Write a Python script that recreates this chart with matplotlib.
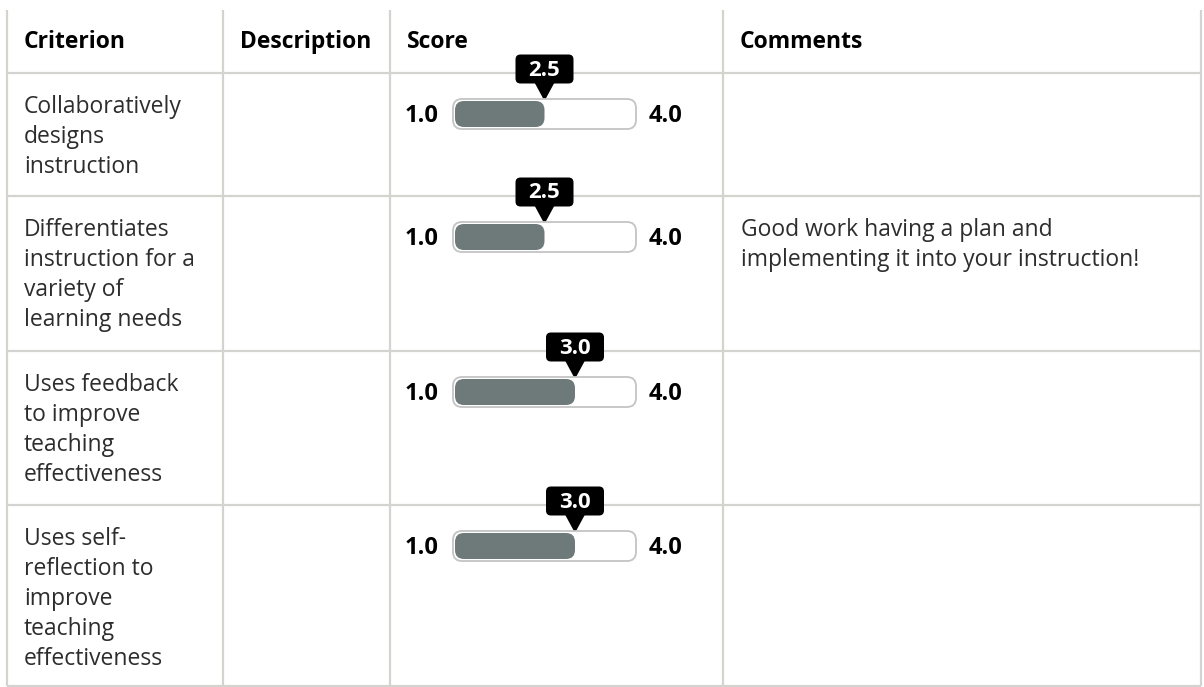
import matplotlib
matplotlib.use("Agg")
import matplotlib.pyplot as plt
from matplotlib.patches import FancyBboxPatch, Polygon

plt.rcParams['font.family'] = ['Open Sans', 'DejaVu Sans']

# table content
headers = ["Criterion", "Description", "Score", "Comments"]
criteria = [
    "Collaboratively\ndesigns\ninstruction",
    "Differentiates\ninstruction for a\nvariety of\nlearning needs",
    "Uses feedback\nto improve\nteaching\neffectiveness",
    "Uses self-\nreflection to\nimprove\nteaching\neffectiveness",
]
descriptions = ["", "", "", ""]
scores = [2.5, 2.5, 3.0, 3.0]
score_min, score_max = 1.0, 4.0
comments = [
    "",
    "Good work having a plan and\nimplementing it into your instruction!",
    "",
    "",
]

# layout (pixels)
W, H = 1204, 687
col_x = [7, 223, 390, 723, 1201]
row_y = [73, 196, 351, 505, 686]
top = 10
grid_col = '#d3d3cf'
fill_col = '#6e7a79'
text_col = '#2d2d2d'

fig = plt.figure(figsize=(W / 100, H / 100), dpi=100)
ax = fig.add_axes([0, 0, 1, 1])
ax.set_xlim(0, W)
ax.set_ylim(H, 0)
ax.axis('off')

# grid lines
for x in col_x:
    ax.plot([x, x], [top, H - 1], color=grid_col, lw=1.6, solid_capstyle='butt', zorder=1)
for y in row_y:
    ax.plot([col_x[0], col_x[-1]], [y, y], color=grid_col, lw=1.6, solid_capstyle='butt', zorder=1)

# header
for x, h in zip(col_x, headers):
    ax.text(x + 17, 48, h, fontsize=16.5, fontweight='bold', color='black', va='baseline')


def put_lines(x, y0, text, **kw):
    for i, line in enumerate(text.split("\n")):
        ax.text(x, y0 + i * 30, line, va='baseline', **kw)


bar_x0, bar_w, bar_h = 453, 183, 30
for i, (crit, score, comm) in enumerate(zip(criteria, scores, comments)):
    rtop = row_y[i]
    put_lines(col_x[0] + 17, rtop + 40, crit, fontsize=16.5, color=text_col)
    if comm:
        put_lines(col_x[3] + 18, rtop + 40, comm, fontsize=16.5, color=text_col)

    cy = rtop + 41
    # min / max labels
    ax.text(bar_x0 - 15, cy + 8, f"{score_min:.1f}", fontsize=17, fontweight='bold',
            ha='right', va='baseline', color='black')
    ax.text(bar_x0 + bar_w + 13, cy + 8, f"{score_max:.1f}", fontsize=17, fontweight='bold',
            ha='left', va='baseline', color='black')

    # bar on its own axes with the score scale
    bax = fig.add_axes([bar_x0 / W, 1 - (cy + bar_h / 2) / H, bar_w / W, bar_h / H])
    bax.set_xlim(score_min, score_max)
    bax.set_ylim(0, 1)
    bax.axis('off')
    ux = (score_max - score_min) / bar_w   # data units per pixel
    uy = 1.0 / bar_h
    asp = uy / ux
    r = 9 * ux
    bax.add_patch(FancyBboxPatch((score_min, 0.0), score_max - score_min, 1.0,
                                 boxstyle=f"round,pad=0,rounding_size={r}", mutation_aspect=asp,
                                 fc='white', ec='#c4c4c4', lw=1.3, clip_on=False))
    bax.add_patch(FancyBboxPatch((score_min + 2 * ux, 2 * uy), (score - score_min) - 2 * ux, 1 - 4 * uy,
                                 boxstyle=f"round,pad=0,rounding_size={r}", mutation_aspect=asp,
                                 fc=fill_col, ec='none', clip_on=False))

    # tooltip bubble above the fill end
    disp = bax.transData.transform((score, 1))
    px, py = ax.transData.inverted().transform(disp)
    bw, bh = 58, 29
    by = py - 30
    ax.add_patch(FancyBboxPatch((px - bw / 2 + 5, by - bh / 2 + 5), bw - 10, bh - 10,
                                boxstyle="round,pad=5,rounding_size=5", fc='black', ec='none', zorder=5))
    ax.add_patch(Polygon([(px - 10, by + bh / 2 - 1), (px + 10, by + bh / 2 - 1), (px, py + 2)],
                         closed=True, fc='black', ec='none', zorder=5))
    ax.text(px, by + 1, f"{score:.1f}", fontsize=16, fontweight='bold', color='white',
            ha='center', va='center', zorder=6)

fig.savefig("out.png", dpi=100)
